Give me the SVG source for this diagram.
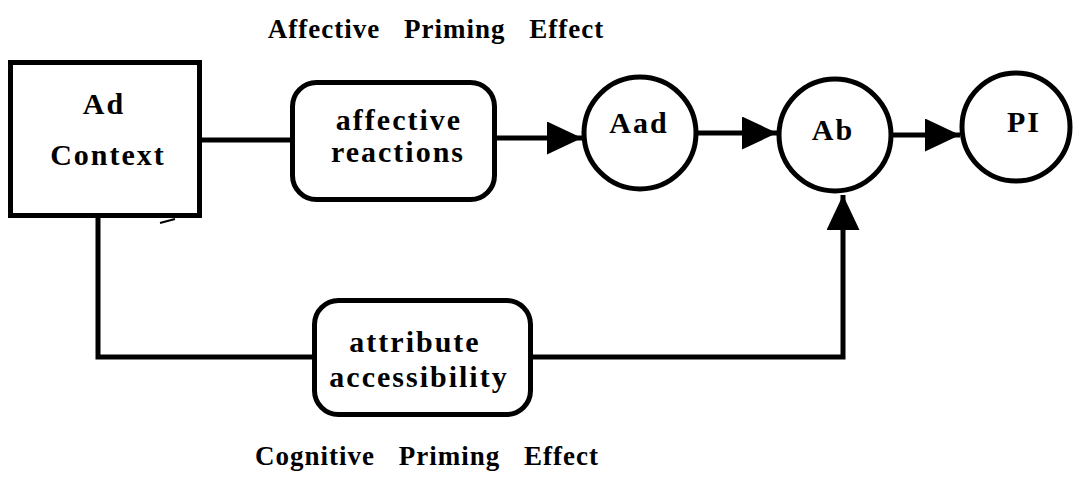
<svg xmlns="http://www.w3.org/2000/svg" width="1074" height="484" viewBox="0 0 1074 484">
<style>
.box{fill:#fff;stroke:#000;stroke-width:5}
.ln{fill:none;stroke:#000;stroke-width:5}
.t{font-family:"Liberation Serif","Times New Roman",serif;font-weight:bold;font-size:30px;letter-spacing:2px;text-anchor:middle;fill:#000}
.title{font-family:"Liberation Serif","Times New Roman",serif;font-weight:bold;font-size:27px;letter-spacing:1px;word-spacing:16px;text-anchor:middle;fill:#000}
</style>
<defs>
<marker id="arr" markerUnits="userSpaceOnUse" markerWidth="36" markerHeight="34" refX="35" refY="16.5" orient="auto">
<path d="M0,0 L35,16.5 L0,33 Z" fill="#000"/>
</marker>
</defs>
<text class="title" x="436" y="38">Affective Priming Effect</text>
<text class="title" x="427" y="465">Cognitive Priming Effect</text>
<g id="connectors">
<line class="ln" x1="200" y1="140" x2="292" y2="140"/>
<line class="ln" x1="495" y1="138" x2="582" y2="138" marker-end="url(#arr)"/>
<line class="ln" x1="695" y1="133" x2="777" y2="133" marker-end="url(#arr)"/>
<line class="ln" x1="891" y1="135" x2="960" y2="135" marker-end="url(#arr)"/>
<path class="ln" d="M98,216 V357 H314"/>
<path class="ln" d="M531,357 H843 V195" marker-end="url(#arr)"/>
<path d="M160,223 L175,219" stroke="#000" stroke-width="2" fill="none"/>
</g>
<g id="ad-context">
<rect class="box" x="10.5" y="62.5" width="189" height="153"/>
<text class="t" x="104" y="114">Ad</text>
<text class="t" x="108" y="165">Context</text>
</g>
<g id="affective-reactions">
<rect class="box" x="292.5" y="82.5" width="202" height="117" rx="24"/>
<text class="t" x="399" y="130">affective</text>
<text class="t" x="398" y="162">reactions</text>
</g>
<g id="attribute-accessibility">
<rect class="box" x="314.5" y="300.5" width="216" height="114" rx="24"/>
<text class="t" x="415" y="352">attribute</text>
<text class="t" x="419" y="387">accessibility</text>
</g>
<g id="aad">
<circle class="box" cx="640" cy="133" r="56"/>
<text class="t" x="639" y="133">Aad</text>
</g>
<g id="ab">
<circle class="box" cx="835" cy="135" r="56"/>
<text class="t" x="833" y="140">Ab</text>
</g>
<g id="pi">
<circle class="box" cx="1016" cy="127" r="54"/>
<text class="t" x="1024" y="132">PI</text>
</g>
</svg>
